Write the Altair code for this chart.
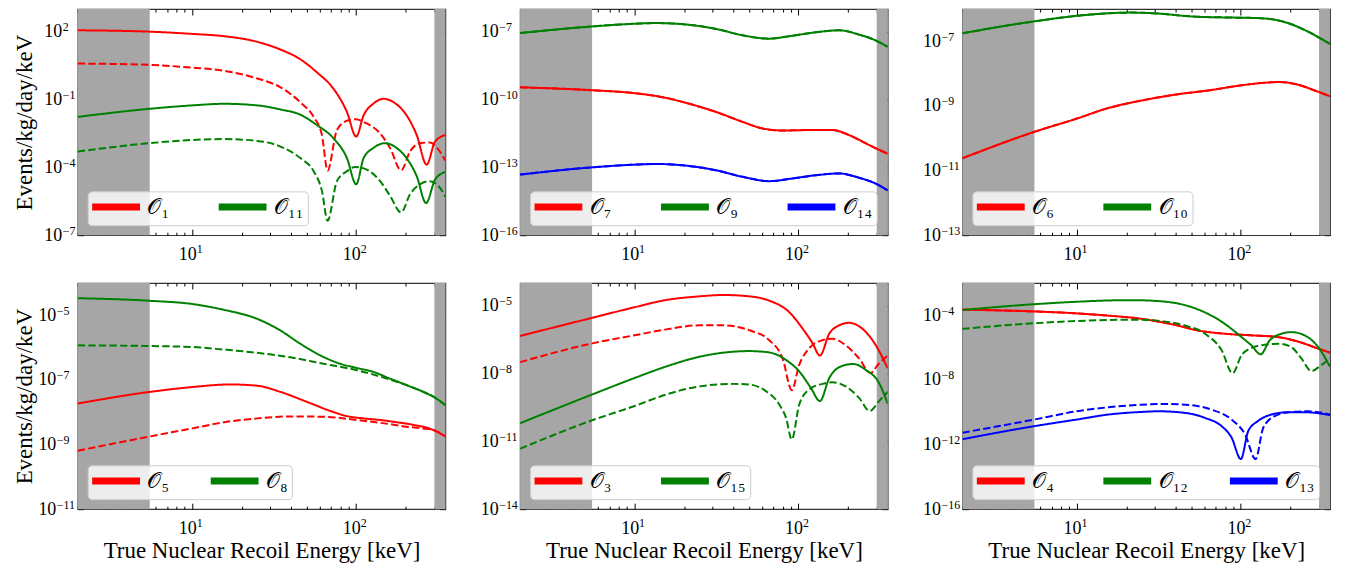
import altair as alt
import pandas as pd

# ---------------- shared axis data ----------------
E_RANGE = [2, 350]
BAND_LO = [2, 300]
BAND_HI = [5.5, 350]
X_MAJOR = [10, 100]
X_MAJOR_EXP = [1, 2]
X_MINOR = [2, 3, 4, 5, 6, 7, 8, 9, 20, 30, 40, 50, 60, 70, 80, 90, 200, 300]

RED, GREEN, BLUE = "#ff0000", "#008000", "#0000ff"

# ---------------- panel 1 (log10 of rate) ----------------
o1_solid_E = [2, 5.5, 10, 15.6, 24.9, 34.5, 45.6, 57.6, 72.8, 87.8, 100, 111, 127, 147, 169, 203, 234, 269, 303, 350]
o1_solid_L = [2.06, 2.0, 1.9, 1.8, 1.55, 1.21, 0.78, 0.2, -0.53, -1.55, -2.64, -1.7, -1.19, -0.97, -1.12, -1.70, -2.57, -3.88, -2.86, -2.57]
o1_dash_E = [2, 5.5, 10, 15.6, 24.9, 34.5, 45.6, 55, 61.8, 66.9, 76.3, 87.8, 98.6, 116, 140, 161, 188, 213, 245, 282, 324, 350]
o1_dash_L = [0.59, 0.53, 0.41, 0.27, -0.07, -0.46, -1.12, -1.77, -2.57, -4.14, -2.35, -1.94, -1.87, -2.06, -2.5, -3.15, -4.13, -3.3, -2.93, -2.9, -3.3, -3.7]
o11_solid_E = [2, 5.5, 10, 15.6, 24.9, 34.5, 45.6, 57.6, 72.8, 87.8, 100, 111, 127, 150, 177, 203, 234, 267, 303, 350]
o11_solid_L = [-1.77, -1.41, -1.26, -1.19, -1.26, -1.44, -1.67, -2.13, -2.72, -3.59, -4.75, -3.59, -3.15, -2.93, -3.15, -3.59, -4.39, -5.58, -4.54, -4.2]
o11_dash_E = [2, 5.5, 10, 15.6, 24.9, 34.5, 45.6, 55, 61.8, 66.9, 76.3, 87.8, 98.6, 116, 140, 161, 188, 213, 245, 282, 324, 350]
o11_dash_L = [-3.30, -2.93, -2.79, -2.75, -2.83, -3.08, -3.59, -4.17, -5.04, -6.36, -4.61, -4.17, -3.98, -4.10, -4.61, -5.26, -5.99, -5.19, -4.75, -4.61, -4.90, -5.3]

# ---------------- panel 2 ----------------
o7_E = [2, 5.5, 10, 15.6, 21.6, 31.4, 45.6, 60.4, 79.9, 116, 161, 203, 269, 350]
o7_L = [-9.46, -9.59, -9.72, -9.93, -10.19, -10.55, -10.99, -11.28, -11.37, -11.35, -11.35, -11.57, -12.01, -12.40]
o9_E = [2, 5.5, 10, 13.5, 19.7, 31.4, 45.6, 66.3, 87.8, 127, 177, 234, 296, 350]
o9_L = [-7.06, -6.77, -6.65, -6.62, -6.67, -6.88, -7.16, -7.31, -7.20, -7.03, -6.94, -7.13, -7.39, -7.67]
o14_E = [2, 5.5, 10, 13.5, 19.7, 31.4, 45.6, 66.3, 91.9, 127, 177, 234, 296, 350]
o14_L = [-13.32, -13.0, -12.88, -12.85, -12.91, -13.13, -13.42, -13.61, -13.49, -13.35, -13.27, -13.46, -13.72, -14.02]

# ---------------- panel 3 ----------------
o6_E = [2, 5.5, 10, 15.6, 24.9, 39.6, 63.2, 101, 140, 173, 223, 282, 350]
o6_L = [-10.62, -9.80, -9.39, -9.06, -8.83, -8.65, -8.52, -8.36, -8.28, -8.26, -8.34, -8.52, -8.70]
o10_E = [2, 5.5, 10, 15.6, 21.6, 31.4, 50.1, 79.9, 127, 161, 203, 257, 350]
o10_L = [-6.75, -6.38, -6.21, -6.13, -6.11, -6.14, -6.23, -6.26, -6.28, -6.33, -6.47, -6.70, -7.08]

# ---------------- panel 4 ----------------
o5_solid_E = [2, 5.5, 10, 17.1, 24.9, 34.5, 50.1, 69.5, 87.8, 111, 140, 177, 223, 296, 350]
o5_solid_L = [-7.73, -7.37, -7.22, -7.14, -7.18, -7.37, -7.68, -7.96, -8.12, -8.19, -8.24, -8.31, -8.39, -8.55, -8.75]
o5_dash_E = [2, 5.5, 10, 15.6, 24.9, 39.6, 63.2, 101, 161, 203, 257, 296, 350]
o5_dash_L = [-9.19, -8.75, -8.50, -8.31, -8.19, -8.13, -8.14, -8.24, -8.37, -8.45, -8.50, -8.55, -8.75]
o8_solid_E = [2, 5.5, 10, 15.6, 24.9, 34.5, 45.6, 60.4, 79.9, 101, 127, 161, 203, 257, 296, 350]
o8_solid_L = [-4.47, -4.55, -4.65, -4.83, -5.11, -5.47, -5.88, -6.24, -6.50, -6.63, -6.75, -6.96, -7.16, -7.37, -7.52, -7.78]
o8_dash_E = [2, 5.5, 10, 15.6, 24.9, 39.6, 63.2, 101, 161, 203, 257, 296, 350]
o8_dash_L = [-5.93, -5.95, -5.98, -6.06, -6.16, -6.30, -6.50, -6.70, -6.99, -7.16, -7.37, -7.52, -7.78]

# ---------------- panel 5 ----------------
o3_solid_E = [2, 5.5, 10, 15.6, 24.9, 34.5, 50.1, 66.3, 87.8, 106, 122, 135, 154, 177, 203, 245, 296, 350]
o3_solid_L = [-6.34, -5.54, -5.07, -4.75, -4.59, -4.53, -4.59, -4.78, -5.29, -6.02, -6.67, -7.21, -6.24, -5.87, -5.76, -6.02, -6.75, -7.77]
o3_dash_E = [2, 5.5, 10, 15.6, 24.9, 34.5, 50.1, 66.3, 79.9, 91, 101, 116, 140, 161, 194, 234, 275, 310, 350]
o3_dash_L = [-7.50, -6.67, -6.31, -6.05, -5.87, -5.87, -6.09, -6.53, -7.33, -8.74, -7.62, -6.89, -6.53, -6.46, -6.75, -7.33, -7.98, -7.55, -7.21]
o15_solid_E = [2, 5.5, 10, 15.6, 24.9, 39.6, 50.1, 66.3, 83.8, 101, 119, 135, 154, 181, 216, 257, 310, 350]
o15_solid_L = [-10.20, -8.93, -8.20, -7.69, -7.26, -7.04, -7.01, -7.07, -7.40, -7.91, -8.64, -9.22, -8.20, -7.69, -7.58, -7.84, -8.42, -9.34]
o15_dash_E = [2, 5.5, 10, 15.6, 24.9, 39.6, 50.1, 63.2, 76.3, 83.8, 91, 101, 116, 140, 161, 194, 234, 272, 310, 350]
o15_dash_L = [-11.33, -10.07, -9.44, -8.93, -8.57, -8.46, -8.49, -8.78, -9.37, -9.95, -10.92, -9.37, -8.71, -8.46, -8.39, -8.57, -9.08, -9.66, -9.22, -8.81]

# ---------------- panel 6 ----------------
o4_E = [2, 5.5, 10, 15.6, 24.9, 39.6, 55, 79.9, 116, 169, 234, 296, 350]
o4_L = [-3.65, -3.76, -3.88, -4.02, -4.22, -4.59, -4.94, -5.14, -5.24, -5.35, -5.69, -6.06, -6.31]
o12_solid_E = [2, 5.5, 10, 15.6, 21.6, 31.4, 45.6, 60.4, 79.9, 101, 116, 132, 150, 177, 203, 245, 296, 350]
o12_solid_L = [-3.67, -3.31, -3.16, -3.08, -3.06, -3.12, -3.37, -3.82, -4.53, -5.35, -5.86, -6.41, -5.55, -5.14, -5.04, -5.24, -5.96, -7.18]
o12_dash_E = [2, 5.5, 10, 15.6, 24.9, 34.5, 45.6, 60.4, 76.3, 89, 101, 116, 140, 169, 203, 234, 269, 310, 350]
o12_dash_L = [-4.84, -4.49, -4.35, -4.29, -4.27, -4.39, -4.63, -5.14, -6.16, -7.59, -6.47, -6.02, -5.82, -5.76, -5.96, -6.67, -7.45, -7.08, -6.67]
o13_solid_E = [2, 5.5, 10, 15.6, 24.9, 31.4, 45.6, 60.4, 76.3, 87.8, 100, 111, 127, 154, 194, 245, 350]
o13_solid_L = [-11.67, -10.86, -10.45, -10.14, -9.98, -9.94, -10.04, -10.35, -10.86, -11.57, -12.90, -11.16, -10.55, -10.14, -10.0, -10.0, -10.18]
o13_dash_E = [2, 5.5, 10, 15.6, 24.9, 34.5, 50.1, 66.3, 87.8, 106, 123, 137, 161, 203, 257, 350]
o13_dash_L = [-11.27, -10.45, -9.94, -9.69, -9.53, -9.49, -9.57, -9.84, -10.45, -11.37, -12.90, -10.96, -10.24, -9.98, -9.94, -10.14]

SUB = str.maketrans("0123456789", "₀₁₂₃₄₅₆₇₈₉")


def op(n):
    return "𝒪" + str(n).translate(SUB)


def exp_str(e):
    return ("\u2212" + str(-e)) if e < 0 else str(e)


def exp_expr(exps):
    parts = [f"abs(log(datum.value)/LN10 - ({e})) < 0.01 ? '{exp_str(e)}'" for e in exps]
    return " : ".join(parts) + " : ''"


PANELS = [
    dict(ops=[op(1), op(11)], colors=[RED, GREEN], ydom=[1e-7, 1e3], yexp=[2, -1, -4, -7],
         series=[(op(1), "solid", o1_solid_E, o1_solid_L), (op(1), "dashed", o1_dash_E, o1_dash_L),
                 (op(11), "solid", o11_solid_E, o11_solid_L), (op(11), "dashed", o11_dash_E, o11_dash_L)]),
    dict(ops=[op(7), op(9), op(14)], colors=[RED, GREEN, BLUE], ydom=[1e-16, 1e-6], yexp=[-7, -10, -13, -16],
         series=[(op(7), "solid", o7_E, o7_L), (op(7), "dashed", o7_E, o7_L),
                 (op(9), "solid", o9_E, o9_L), (op(9), "dashed", o9_E, o9_L),
                 (op(14), "solid", o14_E, o14_L), (op(14), "dashed", o14_E, o14_L)]),
    dict(ops=[op(6), op(10)], colors=[RED, GREEN], ydom=[1e-13, 1e-6], yexp=[-7, -9, -11, -13],
         series=[(op(6), "solid", o6_E, o6_L), (op(6), "dashed", o6_E, o6_L),
                 (op(10), "solid", o10_E, o10_L), (op(10), "dashed", o10_E, o10_L)]),
    dict(ops=[op(5), op(8)], colors=[RED, GREEN], ydom=[1e-11, 1e-4], yexp=[-5, -7, -9, -11],
         series=[(op(5), "solid", o5_solid_E, o5_solid_L), (op(5), "dashed", o5_dash_E, o5_dash_L),
                 (op(8), "solid", o8_solid_E, o8_solid_L), (op(8), "dashed", o8_dash_E, o8_dash_L)]),
    dict(ops=[op(3), op(15)], colors=[RED, GREEN], ydom=[1e-14, 1e-4], yexp=[-5, -8, -11, -14],
         series=[(op(3), "solid", o3_solid_E, o3_solid_L), (op(3), "dashed", o3_dash_E, o3_dash_L),
                 (op(15), "solid", o15_solid_E, o15_solid_L), (op(15), "dashed", o15_dash_E, o15_dash_L)]),
    dict(ops=[op(4), op(12), op(13)], colors=[RED, GREEN, BLUE], ydom=[1e-16, 1e-2], yexp=[-4, -8, -12, -16],
         series=[(op(4), "solid", o4_E, o4_L), (op(4), "dashed", o4_E, o4_L),
                 (op(12), "solid", o12_solid_E, o12_solid_L), (op(12), "dashed", o12_dash_E, o12_dash_L),
                 (op(13), "solid", o13_solid_E, o13_solid_L), (op(13), "dashed", o13_dash_E, o13_dash_L)]),
]

W, H = 369, 227
FONT = "Liberation Serif"
LAB = 18      # size of the "10" part
EXP = 12      # size of the exponent part


def exp_width(e):
    s = exp_str(e)
    return EXP * (0.5 * sum(c.isdigit() for c in s) + (0.564 if e < 0 else 0))


def make_panel(p, idx):
    show_x = idx >= 3
    show_y = idx % 3 == 0
    rows = []
    for name, style, es, ls in p["series"]:
        for e, l in zip(es, ls):
            rows.append({"E": e, "R": 10.0 ** l, "op": name, "style": style})
    df = pd.DataFrame(rows)
    bands = pd.DataFrame({"x": BAND_LO, "x2": BAND_HI,
                          "y": [p["ydom"][0]] * 2, "y2": [p["ydom"][1]] * 2})
    guide = pd.DataFrame({"x": [10.0], "y": [(p["ydom"][0] * p["ydom"][1]) ** 0.5]})
    xs = alt.Scale(type="log", domain=E_RANGE, nice=False)
    ys = alt.Scale(type="log", domain=p["ydom"], nice=False)
    yvals = [10.0 ** e for e in p["yexp"]]
    wexp = max(exp_width(e) for e in p["yexp"])
    pad10 = round(3 + wexp)

    x_axis = alt.Axis(values=X_MAJOR, labelExpr="'10'", tickSize=6, offset=-6, domain=False, grid=False,
                      labelPadding=10, labelFlush=False, labelOverlap=False, labelAlign="right",
                      labelOffset=4, labelFontSize=LAB, labelBaseline="top",
                      title="True Nuclear Recoil Energy [keV]" if show_x else None, titlePadding=0,
                      minExtent=37, maxExtent=37)
    y_axis = alt.Axis(values=yvals, labelExpr="'10'", tickSize=6, offset=-6, domain=False, grid=False,
                      labelPadding=pad10, labelFlush=False, labelOverlap=False, labelAlign="right",
                      labelFontSize=LAB, labelBaseline="middle",
                      title="Events/kg/day/keV" if show_y else None, titlePadding=5,
                      minExtent=42, maxExtent=42)

    shade = alt.Chart(bands).mark_rect(color="#a6a6a6").encode(
        x=alt.X("x:Q", scale=xs, axis=None), x2="x2:Q",
        y=alt.Y("y:Q", scale=ys, axis=None), y2="y2:Q")
    lines = alt.Chart(df).mark_line(strokeWidth=2, interpolate="monotone", clip=True).encode(
        x=alt.X("E:Q", scale=xs, axis=x_axis),
        y=alt.Y("R:Q", scale=ys, axis=y_axis),
        color=alt.Color("op:N", scale=alt.Scale(domain=p["ops"], range=p["colors"]),
                        legend=alt.Legend(orient="bottom-left", direction="horizontal",
                                          columns=len(p["ops"]), title=None, symbolType="M-3,0L3,0",
                                          symbolSize=256, symbolStrokeWidth=7, symbolOpacity=1,
                                          symbolOffset=13, labelOffset=20,
                                          labelFont=FONT, labelFontSize=22,
                                          fillColor="rgba(255,255,255,0.8)", strokeColor="#cccccc",
                                          cornerRadius=4, padding=4, offset=10, columnPadding=27,
                                          gridAlign="all")),
        strokeDash=alt.StrokeDash("style:N", scale=alt.Scale(domain=["solid", "dashed"],
                                                             range=[[1, 0], [7.4, 3.2]]), legend=None),
    )
    mirror = alt.Chart(guide).mark_point(opacity=0, size=0).encode(
        x=alt.X("x:Q", scale=xs, axis=alt.Axis(orient="top", values=X_MAJOR, labels=False, tickSize=6,
                                               offset=-6, domain=False, grid=False, title=None)),
        y=alt.Y("y:Q", scale=ys, axis=alt.Axis(orient="right", values=yvals, labels=False, tickSize=6,
                                               offset=-6, domain=False, grid=False, title=None)))
    minor_b = alt.Chart(guide).mark_point(opacity=0, size=0).encode(
        x=alt.X("x:Q", scale=xs, axis=alt.Axis(orient="bottom", values=X_MINOR, labels=False, tickSize=3,
                                               offset=-3, domain=False, grid=False, title=None)),
        y=alt.Y("y:Q", scale=ys, axis=None))
    minor_t = alt.Chart(guide).mark_point(opacity=0, size=0).encode(
        x=alt.X("x:Q", scale=xs, axis=alt.Axis(orient="top", values=X_MINOR, labels=False, tickSize=3,
                                               offset=-3, domain=False, grid=False, title=None)),
        y=alt.Y("y:Q", scale=ys, axis=None))
    expo = alt.Chart(guide).mark_point(opacity=0, size=0).encode(
        x=alt.X("x:Q", scale=xs, axis=alt.Axis(orient="bottom", values=X_MAJOR, labelExpr=exp_expr(X_MAJOR_EXP),
                                               ticks=False, tickSize=0, domain=False, grid=False,
                                               labelPadding=8, labelAlign="left", labelOffset=4,
                                               labelBaseline="top", labelFontSize=EXP, labelFlush=False,
                                               labelOverlap=False, title=None)),
        y=alt.Y("y:Q", scale=ys, axis=alt.Axis(orient="left", values=yvals, labelExpr=exp_expr(p["yexp"]),
                                               ticks=False, tickSize=0, domain=False, grid=False,
                                               labelPadding=pad10 - 0.5, labelAlign="left", labelOffset=-5,
                                               labelBaseline="middle", labelFontSize=EXP, labelFlush=False,
                                               labelOverlap=False, title=None)))
    return alt.layer(shade, lines, mirror, minor_b, minor_t, expo).resolve_scale(
        x="independent", y="independent").properties(width=W, height=H)


panels = [make_panel(p, i) for i, p in enumerate(PANELS)]
chart = alt.concat(*panels, columns=3, spacing={"row": 48, "column": 75}, bounds="flush").resolve_scale(
    x="independent", y="independent", color="independent", strokeDash="independent").resolve_legend(
    color="independent").properties(padding={"top": -2, "left": 5, "right": 5, "bottom": 0}).configure_view(
    stroke="#333333", strokeWidth=1.2).configure_axis(
    labelFont=FONT, labelColor="black", tickColor="black", tickWidth=1,
    titleFont=FONT, titleFontSize=23, titleFontWeight="normal", titleColor="black")

chart.save("out.html", embed_options={"renderer": "svg", "actions": False})
